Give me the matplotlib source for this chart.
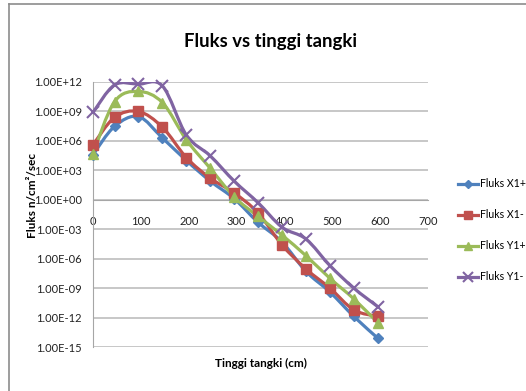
import matplotlib
matplotlib.use("Agg")
import matplotlib.pyplot as plt
from matplotlib.path import Path
from matplotlib.patches import PathPatch
from matplotlib.lines import Line2D
import numpy as np

plt.rcParams['font.family'] = ['Lato', 'DejaVu Sans']

tinggi = [0, 45, 95, 145, 195, 245, 295, 345, 395, 445, 495, 545, 595]
fluks_x1_plus = [4e4, 3e7, 3e8, 2e6, 1e4, 8e1, 1.3, 5e-3, 5e-5, 5e-8, 4e-10, 1.3e-12, 8e-15]
fluks_x1_min = [4e5, 2.5e8, 1e9, 2.5e7, 2e4, 1.6e2, 5, 4.5e-2, 2.5e-5, 9e-8, 1e-9, 6e-12, 1.3e-12]
fluks_y1_plus = [5e4, 1e10, 1.1e11, 8e9, 1.3e6, 1.6e3, 2, 2e-2, 2.5e-4, 2e-6, 1e-8, 8e-11, 3e-13]
fluks_y1_min = [8e8, 5e11, 6e11, 4e11, 4e6, 3e4, 8e1, 0.5, 1.6e-3, 1e-4, 2e-7, 1e-9, 1.3e-11]

nama = ['Fluks X1+', 'Fluks X1-', 'Fluks Y1+', 'Fluks Y1-']
warna = ['#4F81BD', '#C0504D', '#9BBB59', '#8064A2']
penanda = ['D', 's', '^', 'x']
ukuran = [5, 6.5, 7.5, 8]

x_ticks = [0, 100, 200, 300, 400, 500, 600, 700]
y_pangkat = list(range(-15, 13, 3))
y_labels = ['1.00E%+03d' % p if p < 0 else '1.00E+%02d' % p for p in y_pangkat]


def kurva_halus(xs, ys):
    # Excel-style smooth line: Catmull-Rom bezier in (x, log y) space
    px = np.array(xs, dtype=float)
    py = np.log10(np.array(ys, dtype=float))
    n = len(px)
    verts = [(px[0], py[0])]
    codes = [Path.MOVETO]
    for i in range(n - 1):
        i0 = max(i - 1, 0)
        i3 = min(i + 2, n - 1)
        c1 = (px[i] + (px[i + 1] - px[i0]) / 6, py[i] + (py[i + 1] - py[i0]) / 6)
        c2 = (px[i + 1] - (px[i3] - px[i]) / 6, py[i + 1] - (py[i3] - py[i]) / 6)
        verts += [c1, c2, (px[i + 1], py[i + 1])]
        codes += [Path.CURVE4] * 3
    verts = [(a, 10 ** b) for a, b in verts]
    return Path(verts, codes)


fig = plt.figure(figsize=(5.26, 3.91), dpi=100)
ax = fig.add_axes([93 / 526, 1 - 347 / 391, 335 / 526, 265 / 391])

ax.set_yscale('log')
ax.set_xlim(0, 700)
ax.set_ylim(1e-15, 1e12)

semua = [fluks_x1_plus, fluks_x1_min, fluks_y1_plus, fluks_y1_min]
handles = []
for data, lab, c, m, s in zip(semua, nama, warna, penanda, ukuran):
    garis = PathPatch(kurva_halus(tinggi, data), facecolor='none', edgecolor=c,
                      lw=2.3, transform=ax.transData, zorder=3)
    ax.add_patch(garis)
    ax.plot(tinggi, data, linestyle='none', marker=m, color=c, markersize=s,
            markeredgewidth=1.5 if m == 'x' else 1, zorder=4, clip_on=False)
    handles.append(Line2D([], [], color=c, lw=2.3, marker=m, markersize=s * 0.85,
                          markeredgewidth=1.5 if m == 'x' else 1))

ax.set_yticks([10.0 ** p for p in y_pangkat])
ax.set_yticklabels(y_labels)
ax.minorticks_off()
ax.set_xticks(x_ticks)
ax.set_xticklabels([str(v) for v in x_ticks])

ax.grid(axis='y', color='#c3c3c3', lw=1.3)
ax.set_axisbelow(True)
ax.spines['top'].set_visible(False)
ax.spines['right'].set_visible(False)
ax.spines['left'].set_color('#a6a6a6')
ax.spines['bottom'].set_position(('data', 1))
ax.spines['bottom'].set_color('#a6a6a6')
ax.tick_params(axis='both', length=0, labelsize=8, colors='#222222')
ax.tick_params(axis='y', pad=8)
ax.tick_params(axis='x', pad=12)

fig.text(271 / 526, 1 - 42 / 391, 'Fluks vs tinggi tangki', ha='center', va='center',
         fontsize=13.3, fontweight='bold')
fig.text(32 / 526, 1 - 196 / 391, 'Fluks n/cm²/sec', rotation=90, ha='center',
         va='center', fontsize=8.5, fontweight='bold')
fig.text(261 / 526, 1 - 363 / 391, 'Tinggi tangki (cm)', ha='center', va='center',
         fontsize=8.5, fontweight='bold')

fig.legend(handles=handles, labels=nama, loc='upper left',
           bbox_to_anchor=(453 / 526, 1 - 173 / 391), frameon=False, fontsize=7.6,
           labelspacing=1.9, handlelength=1.9, handletextpad=0.15, borderpad=0)

# chart area border
fig.add_artist(Line2D([9 / 526, 9 / 526], [0, 1 - 4 / 391], color='#8c8c8c', lw=1.2,
                      transform=fig.transFigure))
fig.add_artist(Line2D([9 / 526, 1], [1 - 4 / 391, 1 - 4 / 391], color='#8c8c8c', lw=1.2,
                      transform=fig.transFigure))

fig.savefig('out.png', dpi=100)
